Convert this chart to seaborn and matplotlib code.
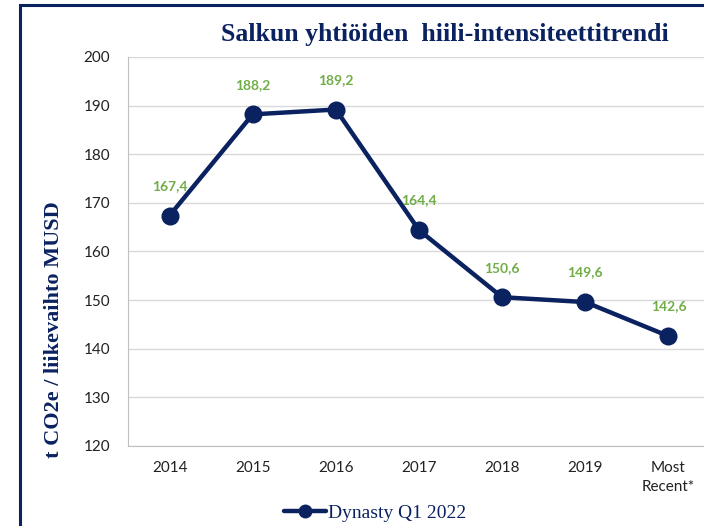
import numpy as np
import pandas as pd
import matplotlib.pyplot as plt
import seaborn as sns
from matplotlib.ticker import FixedLocator
from matplotlib.patches import Rectangle

# Datos del gráfico
vuodet = ['2014', '2015', '2016', '2017', '2018', '2019', 'Most\nRecent*']
intensiteetti = [167.4, 188.2, 189.2, 164.4, 150.6, 149.6, 142.6]
y_ticks = [120, 130, 140, 150, 160, 170, 180, 190, 200]

sarja = 'Dynasty Q1 2022'
df = pd.DataFrame({'vuosi': vuodet, 'arvo': intensiteetti, 'sarja': sarja})

NAVY = '#0b2260'
GREEN = '#70ad47'

sns.set_style('white')
plt.rcParams['font.family'] = ['Lato', 'DejaVu Sans']

fig = plt.figure(figsize=(7.04, 5.26), dpi=100)
fig.patch.set_facecolor('white')

# Marco del gráfico (cortado a la derecha y abajo)
fig.patches.append(Rectangle((20 / 704, -0.05), 1.2, 1 - 5 / 526 + 0.05,
                             transform=fig.transFigure, fill=False,
                             edgecolor=NAVY, linewidth=2.2, zorder=0))

ax = fig.add_axes([128 / 704, 1 - 446 / 526, (710 - 128) / 704, (446 - 57) / 526])

sns.lineplot(data=df, x='vuosi', y='arvo', hue='sarja', palette=[NAVY],
             sort=False, marker='o', markersize=13, linewidth=3.2,
             markeredgewidth=0, ax=ax, legend=False)

for i, v in enumerate(intensiteetti):
    ax.annotate(f'{v:.1f}'.replace('.', ','), (i, v), xytext=(0, 17),
                textcoords='offset points', ha='center', va='bottom',
                color=GREEN, fontsize=10, fontweight='bold')

ax.set_xlim(-0.5, len(vuodet) - 0.5)
ax.set_ylim(120, 200)
ax.set_yticks(y_ticks)
ax.yaxis.grid(True, color='#d9d9d9', linewidth=1)
ax.set_axisbelow(True)

ax.xaxis.set_minor_locator(FixedLocator(np.arange(-0.5, len(vuodet), 1)))
ax.tick_params(axis='x', which='major', length=0, pad=11, labelsize=11, colors='#222222')
ax.tick_params(axis='x', which='minor', length=6, color='#bfbfbf', direction='out')
ax.tick_params(axis='y', length=5, color='#bfbfbf', direction='out', pad=8,
               labelsize=11, labelcolor='#222222')
for lbl in ax.get_xticklabels():
    lbl.set_linespacing(1.45)

for s in ['top', 'right']:
    ax.spines[s].set_visible(False)
for s in ['left', 'bottom']:
    ax.spines[s].set_color('#bfbfbf')
ax.set_xlabel('')
ax.set_ylabel('')

fig.text(445 / 704, 1 - 35 / 526, 'Salkun yhtiöiden  hiili-intensiteettitrendi',
         ha='center', va='center', fontsize=18.5, fontweight='bold', color=NAVY,
         family='Liberation Serif')
fig.text(54 / 704, 1 - 330 / 526, 't CO2e / liikevaihto MUSD', rotation=90,
         ha='center', va='center', fontsize=16, fontweight='bold', color=NAVY,
         family='Liberation Serif')

handle = plt.Line2D([], [], color=NAVY, linewidth=3.2, marker='o', markersize=9)
fig.legend([handle], [sarja], loc='center', bbox_to_anchor=(375 / 704, 1 - 513 / 526),
           frameon=False, handlelength=2.2, handletextpad=0.1,
           prop={'family': 'Liberation Serif', 'size': 14}, labelcolor=NAVY)

fig.savefig('out.png', dpi=100)
